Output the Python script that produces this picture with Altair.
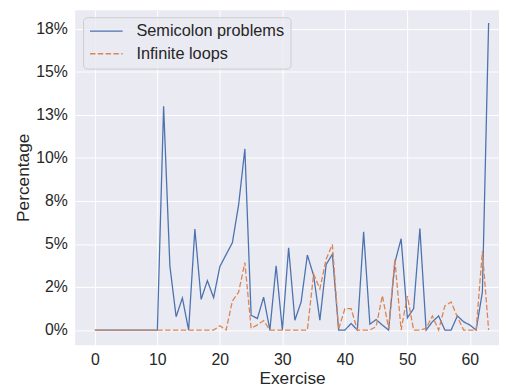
import altair as alt
import pandas as pd

exercises = list(range(64))
semicolon = [0, 0, 0, 0, 0, 0, 0, 0, 0, 0, 0,
             13.0, 3.73, 0.77, 1.86, 0, 5.87, 1.78, 2.87, 1.88,
             3.69, 4.38, 5.07, 7.27, 10.52, 0.86, 0.67, 1.91, 0, 3.73,
             0, 4.78, 0.57, 1.63, 4.36, 3.16, 0.57, 3.8, 4.4, 0,
             0, 0.38, 0, 5.7, 0.34, 0.61, 0.29, 0, 3.92, 5.3,
             0.71, 1.24, 5.89, 0, 0.48, 0.82, 0, 0, 0.82, 0.48,
             0.29, 0, 2.2, 17.83]
infinite = [0] * 20 + [
             0.25, 0, 1.69, 2.2, 3.92, 0.1, 0.3, 0.55, 0, 0,
             0, 0, 0, 0, 0, 3.25, 2.39, 4.11, 4.97, 0.05,
             1.24, 1.24, 0, 0, 0, 0.2, 2.0, 0.1, 4.1, 0,
             1.97, 0, 0, 0.1, 0.82, 0, 1.4, 1.63, 0.76, 0,
             0, 0, 4.57, 0]
series_names = ["Semicolon problems", "Infinite loops"]
series_colors = ["#4C72B0", "#DD8452"]
y_ticks = [0, 2.5, 5, 7.5, 10, 12.5, 15, 17.5]
y_tick_labels = ["0%", "2%", "5%", "8%", "10%", "13%", "15%", "18%"]
x_ticks = [0, 10, 20, 30, 40, 50, 60]

rows = []
for name, vals in zip(series_names, [semicolon, infinite]):
    for x, v in zip(exercises, vals):
        rows.append({"Exercise": x, "Percentage": v, "series": name})
df = pd.DataFrame(rows)

FONT = "Liberation Sans"
TXT = "#262626"
label_arr = "[" + ",".join("'%s'" % s for s in y_tick_labels) + "]"

chart = alt.Chart(df).mark_line(strokeWidth=1.3, clip=True).encode(
    x=alt.X("Exercise:Q",
            scale=alt.Scale(domain=[-3.15, 64.66], nice=False, zero=False),
            axis=alt.Axis(values=x_ticks, title="Exercise", format="d",
                          labelPadding=7, titleX=219.5, titleY=25,
                          titleBaseline="top", titleAnchor="start", titleAlign="center")),
    y=alt.Y("Percentage:Q",
            scale=alt.Scale(domain=[-0.88, 18.57], nice=False, zero=False),
            axis=alt.Axis(values=y_ticks, title="Percentage",
                          labelExpr=label_arr + "[round(datum.value/2.5)]",
                          labelPadding=8, titleX=-43, titleY=169,
                          titleAngle=270, titleBaseline="bottom", titleAlign="center")),
    color=alt.Color("series:N",
                    scale=alt.Scale(domain=series_names, range=series_colors),
                    sort=series_names,
                    legend=alt.Legend(title=None, orient="none", legendX=8, legendY=7,
                                      symbolType="stroke", symbolSize=1089,
                                      symbolStrokeWidth=1.3, clipHeight=16,
                                      labelFont=FONT, labelFontSize=16.5, labelColor=TXT,
                                      labelOffset=13, padding=6, rowPadding=6,
                                      fillColor="rgba(234,234,242,0.8)", strokeColor="#CCCCCC",
                                      cornerRadius=4)),
    strokeDash=alt.StrokeDash("series:N",
                              scale=alt.Scale(domain=series_names, range=[[1, 0], [5.5, 2.4]]),
                              sort=series_names,
                              legend=alt.Legend(title=None, orient="none", legendX=8, legendY=7)),
    order=alt.Order("Exercise:Q"),
).properties(
    width=429, height=339,
    padding={"left": 68, "top": 0, "right": 0, "bottom": 40},
    autosize=alt.AutoSizeParams(type="none"),
    background="white",
).configure_view(
    fill="#EAEAF2", stroke=None
).configure_axis(
    grid=True, gridColor="white", gridWidth=1, domain=False, ticks=False, tickSize=0,
    labelFont=FONT, labelFontSize=16, labelColor=TXT,
    titleFont=FONT, titleFontSize=17.5, titleColor=TXT, titleFontWeight="normal",
)

chart.save("out.html", embed_options={"renderer": "svg", "actions": False})
